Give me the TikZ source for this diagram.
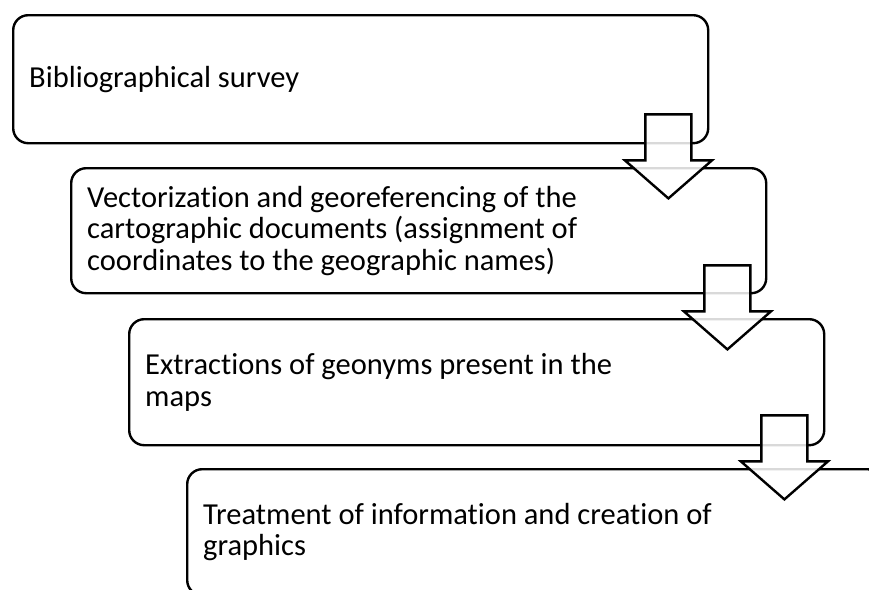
\documentclass[tikz,border=0pt]{standalone}
\usepackage{fontspec}
\setmainfont{Carlito}[Ligatures=NoCommon]
\usepackage{tikz}
\usetikzlibrary{calc}
\usetikzlibrary{positioning}

\tikzset{
  stagebox/.style={draw,line width=2.4pt,rounded corners=15pt,rectangle,anchor=north west,
    align=flush left,text width=663pt,inner xsep=16pt,inner ysep=0pt,
    minimum width=695pt,minimum height=126pt,font=\fontsize{30.5}{31.5}\selectfont},
  blockarrow/.pic={
    \draw[line width=2.4pt,line join=miter,fill=white,fill opacity=0.85]
      (-23,0) -- (23,0) -- (23,46) -- (43.5,46) -- (0,84) -- (-43.5,46) -- (-23,46) -- cycle;
  }
}

\begin{document}
\begin{tikzpicture}[x=1pt,y=-1pt]
				\useasboundingbox (0,0) rectangle (869,589);
				\clip (0,0) rectangle (869,589);
				\node[stagebox,minimum height=128pt] (SURVEY) at (12,14) {Bibliographical survey};
				\node[stagebox,minimum height=125pt] (VECTOR) at (70,167) {Vectorization and georeferencing of the\\cartographic documents (assignment of\\coordinates to the geographic names)};
				\node[stagebox] (EXTRACT) at (128,318) {Extractions of geonyms present in the\\maps};
				\node[stagebox] (TREAT) at (186,468) {Treatment of information and creation of\\graphics};
				% block arrows between the stages
				\pic at ($(SURVEY.south east)+(-41,-30)$) {blockarrow};
				\pic at ($(VECTOR.south east)+(-40,-29)$) {blockarrow};
				\pic at ($(EXTRACT.south east)+(-41,-31)$) {blockarrow};
\end{tikzpicture}
\end{document}
